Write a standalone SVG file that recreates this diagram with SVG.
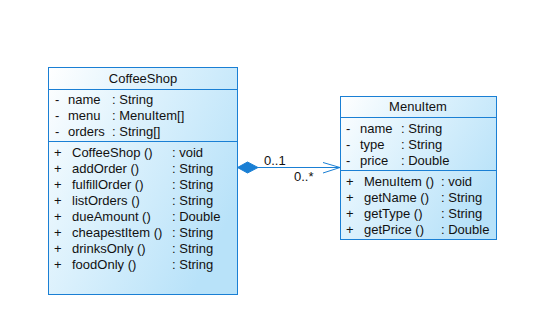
<svg xmlns="http://www.w3.org/2000/svg" width="541" height="335" viewBox="0 0 541 335">
  <style>
    .box { stroke: #1a7fd4; stroke-width: 1; }
    .sep { stroke: #1a7fd4; stroke-width: 1; }
    text { font-family: "Liberation Sans", Arial, sans-serif; font-size: 13px; fill: #111; }
    .title { text-anchor: middle; }
    .conn { stroke: #1a7fd4; stroke-width: 1; fill: none; }
  </style>
  <defs>
    <linearGradient id="classFill" x1="0" y1="0" x2="1" y2="0.6">
      <stop offset="0" stop-color="#ffffff"/>
      <stop offset="0.35" stop-color="#e3f4fd"/>
      <stop offset="1" stop-color="#b8e2f9"/>
    </linearGradient>
  </defs>
  <rect width="541" height="335" fill="#ffffff"/>

  <!-- CoffeeShop class -->
  <g id="CoffeeShop">
    <rect class="box" x="48.5" y="67.5" width="189" height="227" fill="url(#classFill)"/>
    <line class="sep" x1="48.5" y1="89.5" x2="237.5" y2="89.5"/>
    <line class="sep" x1="48.5" y1="141.5" x2="237.5" y2="141.5"/>
    <text class="title" x="143" y="83">CoffeeShop</text>
    <text x="55" y="104">-</text><text x="68" y="104">name</text><text x="112" y="104">: String</text>
    <text x="55" y="120">-</text><text x="68" y="120">menu</text><text x="112" y="120">: MenuItem[]</text>
    <text x="55" y="136">-</text><text x="68" y="136">orders</text><text x="112" y="136">: String[]</text>
    <text x="54" y="157">+</text><text x="72" y="157">CoffeeShop ()</text><text x="172" y="157">: void</text>
    <text x="54" y="173">+</text><text x="72" y="173">addOrder ()</text><text x="172" y="173">: String</text>
    <text x="54" y="189">+</text><text x="72" y="189">fulfillOrder ()</text><text x="172" y="189">: String</text>
    <text x="54" y="205">+</text><text x="72" y="205">listOrders ()</text><text x="172" y="205">: String</text>
    <text x="54" y="221">+</text><text x="72" y="221">dueAmount ()</text><text x="172" y="221">: Double</text>
    <text x="54" y="237">+</text><text x="72" y="237">cheapestItem ()</text><text x="172" y="237">: String</text>
    <text x="54" y="253">+</text><text x="72" y="253">drinksOnly ()</text><text x="172" y="253">: String</text>
    <text x="54" y="269">+</text><text x="72" y="269">foodOnly ()</text><text x="172" y="269">: String</text>
  </g>

  <!-- MenuItem class -->
  <g id="MenuItem">
    <rect class="box" x="340.5" y="96.5" width="156" height="143" fill="url(#classFill)"/>
    <line class="sep" x1="340.5" y1="117.5" x2="496.5" y2="117.5"/>
    <line class="sep" x1="340.5" y1="170.5" x2="496.5" y2="170.5"/>
    <text class="title" x="418" y="111">MenuItem</text>
    <text x="346" y="133">-</text><text x="360" y="133">name</text><text x="401" y="133">: String</text>
    <text x="346" y="149">-</text><text x="360" y="149">type</text><text x="401" y="149">: String</text>
    <text x="346" y="165">-</text><text x="360" y="165">price</text><text x="401" y="165">: Double</text>
    <text x="346" y="186">+</text><text x="364" y="186">MenuItem ()</text><text x="441" y="186">: void</text>
    <text x="346" y="202">+</text><text x="364" y="202">getName ()</text><text x="441" y="202">: String</text>
    <text x="346" y="218">+</text><text x="364" y="218">getType ()</text><text x="441" y="218">: String</text>
    <text x="346" y="234">+</text><text x="364" y="234">getPrice ()</text><text x="441" y="234">: Double</text>
  </g>

  <!-- composition association -->
  <g id="connectors">
    <polygon points="237.5,167.5 247.5,162 258,167.5 247.5,173" fill="#1a7fd4" stroke="#1a7fd4" stroke-width="1"/>
    <line class="conn" x1="258" y1="167.5" x2="340" y2="167.5"/>
    <polyline class="conn" points="323,162.5 340,167.5 323,173"/>
    <text x="264" y="165">0..1</text>
    <text x="294" y="181">0..*</text>
  </g>
</svg>
